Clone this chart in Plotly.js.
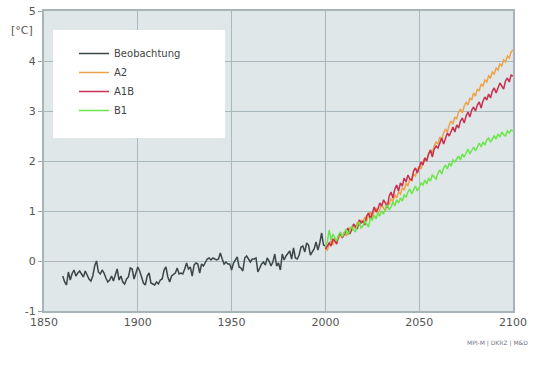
<!DOCTYPE html>
<html>
<head>
<meta charset="utf-8">
<script src="https://cdn.plot.ly/plotly-3.0.1.min.js"></script>
<style>html,body{margin:0;padding:0;background:#fff;}#chart{width:536px;height:368px;}</style>
</head>
<body>
<div id="chart"></div>
<script>
const obsStart = 1860;
const obsValues = [
 -0.30,-0.42,-0.48,-0.22,-0.38,-0.25,-0.18,-0.30,-0.24,-0.20,
 -0.26,-0.32,-0.20,-0.28,-0.36,-0.40,-0.30,-0.10, 0.00,-0.22,
 -0.26,-0.18,-0.24,-0.34,-0.42,-0.38,-0.30,-0.40,-0.28,-0.16,
 -0.38,-0.30,-0.42,-0.46,-0.36,-0.32,-0.14,-0.16,-0.36,-0.22,
 -0.12,-0.20,-0.34,-0.44,-0.48,-0.30,-0.24,-0.44,-0.46,-0.48,
 -0.42,-0.46,-0.38,-0.36,-0.18,-0.12,-0.32,-0.42,-0.30,-0.26,
 -0.24,-0.14,-0.26,-0.24,-0.26,-0.16,-0.04,-0.16,-0.12,-0.30,
 -0.08,-0.04,-0.06,-0.24,-0.06,-0.10,-0.04, 0.04, 0.06, 0.02,
  0.06, 0.04, 0.02, 0.04, 0.16, 0.04,-0.06,-0.02,-0.06,-0.06,
 -0.18,-0.04, 0.02, 0.08,-0.12,-0.14,-0.20, 0.06, 0.10, 0.04,
 -0.02, 0.04, 0.04, 0.06,-0.22,-0.14,-0.06,-0.02,-0.08, 0.06,
  0.00,-0.10,-0.02, 0.14,-0.10,-0.04,-0.18, 0.14, 0.02, 0.10,
  0.16, 0.20, 0.04, 0.26, 0.06, 0.04, 0.12, 0.28, 0.30, 0.18,
  0.36, 0.32, 0.12, 0.18, 0.24, 0.38, 0.22, 0.36, 0.56, 0.32,
  0.30
];
const scenStart = 2000;
const a2Values = [
 0.26,0.22,0.34,0.40,0.32,0.46,0.38,0.44,0.52,0.48,
 0.58,0.50,0.56,0.66,0.62,0.72,0.64,0.78,0.70,0.82,
 0.76,0.88,0.80,0.92,0.98,0.86,1.00,1.06,0.94,1.02,
 1.12,1.06,1.00,1.18,1.14,1.24,1.20,1.32,1.26,1.38,
 1.34,1.46,1.42,1.56,1.50,1.64,1.60,1.74,1.70,1.82,
 1.90,1.84,1.98,2.06,2.00,2.14,2.22,2.16,2.30,2.38,
 2.34,2.48,2.42,2.56,2.64,2.58,2.72,2.80,2.74,2.88,
 2.84,2.98,3.04,2.96,3.10,3.18,3.12,3.26,3.22,3.36,
 3.30,3.44,3.40,3.54,3.50,3.62,3.58,3.70,3.66,3.78,
 3.74,3.86,3.82,3.94,3.90,4.02,3.98,4.10,4.06,4.18,
 4.22
];
const a1bValues = [
 0.24,0.30,0.36,0.30,0.44,0.40,0.34,0.50,0.56,0.46,
 0.52,0.60,0.66,0.54,0.62,0.74,0.70,0.64,0.82,0.76,
 0.80,0.72,0.90,0.96,0.84,0.94,1.08,0.98,1.04,1.16,
 1.10,1.22,1.16,1.06,1.30,1.38,1.26,1.44,1.52,1.40,
 1.56,1.50,1.66,1.58,1.72,1.64,1.62,1.80,1.86,1.76,
 1.88,1.98,1.92,2.06,2.00,2.14,2.22,2.08,2.24,2.30,
 2.26,2.38,2.46,2.34,2.44,2.56,2.50,2.60,2.68,2.58,
 2.72,2.66,2.80,2.86,2.76,2.90,2.98,2.88,3.02,3.08,
 3.00,3.12,3.18,3.06,3.20,3.28,3.22,3.34,3.26,3.40,
 3.46,3.36,3.48,3.56,3.50,3.44,3.60,3.66,3.58,3.72,
 3.70
];
const b1Values = [
 0.30,0.38,0.62,0.42,0.54,0.46,0.40,0.52,0.58,0.48,
 0.56,0.64,0.52,0.60,0.70,0.62,0.58,0.72,0.78,0.66,
 0.70,0.80,0.74,0.68,0.86,0.82,0.92,0.84,0.96,0.90,
 1.00,0.94,1.06,1.12,1.02,1.08,1.18,1.10,1.22,1.16,
 1.26,1.20,1.32,1.28,1.38,1.44,1.34,1.42,1.50,1.40,
 1.48,1.56,1.52,1.62,1.54,1.66,1.60,1.72,1.68,1.64,
 1.76,1.82,1.74,1.86,1.92,1.84,1.96,1.90,2.02,1.98,
 2.04,2.10,2.02,2.14,2.08,2.18,2.24,2.14,2.22,2.28,
 2.20,2.30,2.36,2.28,2.38,2.32,2.42,2.46,2.38,2.44,
 2.50,2.44,2.54,2.48,2.58,2.52,2.50,2.60,2.56,2.62,
 2.60
];
const seriesNames = ["Beobachtung", "A2", "A1B", "B1"];
const xTicks = [1850, 1900, 1950, 2000, 2050, 2100];
const yTicks = [-1, 0, 1, 2, 3, 4, 5];

function years(start, n) { const a = []; for (let i = 0; i < n; i++) a.push(start + i); return a; }

const colors = ["#3b4747", "#eea24a", "#c9304f", "#6ae64a"];
const data = [
  {x: years(obsStart, obsValues.length), y: obsValues, name: seriesNames[0]},
  {x: years(scenStart, a2Values.length), y: a2Values, name: seriesNames[1]},
  {x: years(scenStart, a1bValues.length), y: a1bValues, name: seriesNames[2]},
  {x: years(scenStart, b1Values.length), y: b1Values, name: seriesNames[3]}
].map((t, i) => Object.assign(t, {type: "scatter", mode: "lines", line: {color: colors[i], width: 1.5}}));

const L = 44, R = 513, T = 11, B = 311;
const pw = R - L, ph = B - T;
const px = v => (v - L) / pw;
const py = v => (B - v) / ph;

const layout = {
  width: 536, height: 368,
  margin: {l: L, r: 536 - R, t: T, b: 368 - B, pad: 0},
  paper_bgcolor: "#ffffff",
  plot_bgcolor: "#dfe7e9",
  font: {family: "DejaVu Sans, sans-serif", color: "#555", size: 11},
  showlegend: true,
  legend: {
    x: px(74), y: py(39), xanchor: "left", yanchor: "top",
    bgcolor: "rgba(0,0,0,0)", borderwidth: 0,
    font: {size: 10, color: "#444"}, itemwidth: 30,
    tracegroupgap: 0
  },
  xaxis: {
    range: [1850, 2100], tickvals: xTicks, ticktext: xTicks.map(String),
    showgrid: true, gridcolor: "#a9b8bc", gridwidth: 1,
    zeroline: false, showline: true, linecolor: "#a7b4b8", linewidth: 2, mirror: true,
    ticks: "", tickfont: {size: 11, color: "#555"}
  },
  yaxis: {
    range: [-1, 5], tickvals: yTicks, ticktext: yTicks.map(String),
    showgrid: true, gridcolor: "#a9b8bc", gridwidth: 1,
    zeroline: false, showline: true, linecolor: "#a7b4b8", linewidth: 2, mirror: true,
    ticks: "outside", ticklen: 4, tickcolor: "#9aa7aa", tickfont: {size: 11, color: "#555"}
  },
  shapes: [
    {type: "rect", xref: "paper", yref: "paper", x0: px(53), x1: px(225), y0: py(138), y1: py(30),
     fillcolor: "#ffffff", line: {width: 0}, layer: "above"}
  ],
  annotations: [
    {text: "[°C]", xref: "paper", yref: "paper", x: px(22), y: py(30), showarrow: false,
     font: {size: 11, color: "#555"}, xanchor: "center", yanchor: "middle"},
    {text: "MPI-M | DKRZ | M&D", xref: "paper", yref: "paper", x: px(497), y: py(343), showarrow: false,
     font: {size: 6, color: "#778"}, xanchor: "center", yanchor: "middle"}
  ]
};

Plotly.newPlot("chart", data, layout, {staticPlot: true, displayModeBar: false});
</script>
</body>
</html>
